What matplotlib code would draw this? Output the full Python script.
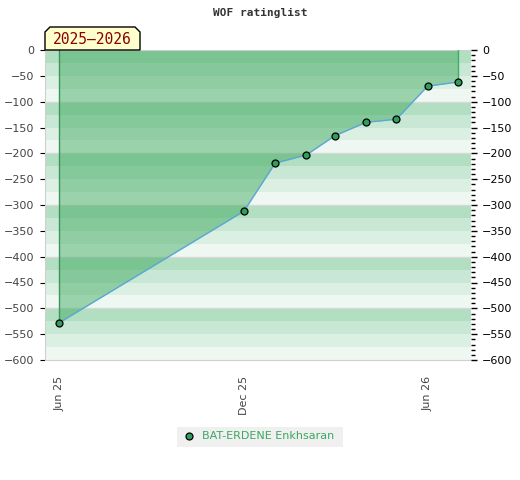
import datetime as dt
import matplotlib
matplotlib.use("Agg")
import matplotlib.pyplot as plt
from matplotlib.patches import Polygon, Rectangle
from matplotlib.lines import Line2D

# ---- data ----
dates = [dt.date(2025, 6, 1), dt.date(2025, 12, 1), dt.date(2026, 1, 1),
         dt.date(2026, 2, 1), dt.date(2026, 3, 1), dt.date(2026, 4, 1),
         dt.date(2026, 5, 1), dt.date(2026, 6, 1), dt.date(2026, 7, 1)]
ranks = [-528, -312, -219, -203, -166, -140, -134, -70, -62]
player = "BAT-ERDENE Enkhsaran"
season = "2025\u20132026"
title = "WOF ratinglist"
xtick_dates = [dt.date(2025, 6, 1), dt.date(2025, 12, 1), dt.date(2026, 6, 1)]
xtick_labels = ["Jun 25", "Dec 25", "Jun 26"]

# ---- styling ----
stripe_cols = ["#b2dec1", "#c9e7d5", "#dcefe3", "#eff7f2"]
fill_col = "#34a555"
line_col = "#5ba7d8"
marker_col = "#2f9e5a"

fig = plt.figure(figsize=(5.2, 4.8), dpi=100)
W, H = 520, 480
ax = fig.add_axes([45 / W, 1 - 360 / H, (471 - 45) / W, (360 - 50) / H])

ymin, ymax = -600, 0
for i, top in enumerate(range(0, ymin, -25)):
    ax.axhspan(top - 25, top, color=stripe_cols[i % 4], lw=0, zorder=0)
for y in range(-100, ymin, -100):
    ax.axhline(y, color="#d8d8d8", lw=1, zorder=1)

ax.fill_between(dates, ranks, 0, color=fill_col, alpha=0.45, lw=0, zorder=2)
ax.plot([dates[0], dates[0]], [ranks[0], 0], color="#3a9658", lw=1, zorder=3)
ax.plot([dates[-1], dates[-1]], [ranks[-1], 0], color="#3fae62", lw=1, zorder=3)
ax.plot(dates, ranks, color=line_col, lw=1.0, zorder=4)
ax.plot(dates, ranks, ls="none", marker="o", ms=5, mfc=marker_col,
        mec="black", mew=0.9, zorder=5)

ax.set_ylim(ymin, ymax)
ax.set_xlim(dt.date(2025, 5, 18), dt.date(2026, 7, 14))
ax.set_yticks(range(0, ymin - 1, -50))
ax.tick_params(axis="y", left=False, labelsize=8, labelcolor="#444444", pad=4)
ax.set_xticks(xtick_dates)
ax.set_xticklabels(xtick_labels, rotation=90)
ax.tick_params(axis="x", bottom=False, labelsize=8, labelcolor="#444444", pad=8)
for s in ["left", "bottom", "top"]:
    ax.spines[s].set_color("#d0d0d0")
ax.spines["right"].set_visible(False)

ax2 = ax.twinx()
ax2.set_ylim(ymin, ymax)
ax2.set_yticks(range(0, ymin - 1, -50))
ax2.set_yticks(range(0, ymin - 1, -10), minor=True)
ax2.tick_params(axis="y", which="major", length=4, width=1, color="black",
                labelsize=8, labelcolor="black", pad=4)
ax2.tick_params(axis="y", which="minor", length=3, width=1, color="black")
for s in ax2.spines.values():
    s.set_visible(False)

fig.text(260 / W, 1 - 13 / H, title, ha="center", va="center",
         family="DejaVu Sans Mono", weight="bold", fontsize=8, color="#333333")

# season tag with bevelled corners
bx0, bx1, by0, by1, cut = 45, 140, 50, 27, 5
pts = [(bx0, by0), (bx0, by1 + cut), (bx0 + cut, by1), (bx1 - cut, by1),
       (bx1, by1 + cut), (bx1, by0)]
fig.patches.append(Polygon([(x / W, 1 - y / H) for x, y in pts], closed=True,
                           transform=fig.transFigure, facecolor="#ffffcc",
                           edgecolor="black", lw=1, zorder=10))
fig.text((bx0 + bx1) / 2 / W, 1 - 39 / H, season, ha="center", va="center",
         family="DejaVu Sans Mono", fontsize=10.5, color="#8b0000", zorder=11)

# legend box
fig.patches.append(Rectangle((177 / W, 1 - 447 / H), (343 - 177) / W, 20 / H,
                             transform=fig.transFigure, facecolor="#f0f0f0",
                             edgecolor="none"))
fig.lines.append(Line2D([189 / W], [1 - 436 / H], transform=fig.transFigure,
                        marker="o", ms=5, mfc=marker_col, mec="black", mew=0.9))
fig.text(202 / W, 1 - 436 / H, player, ha="left", va="center",
         fontsize=8, color="#3aa860")

fig.savefig("out.png", dpi=100)
